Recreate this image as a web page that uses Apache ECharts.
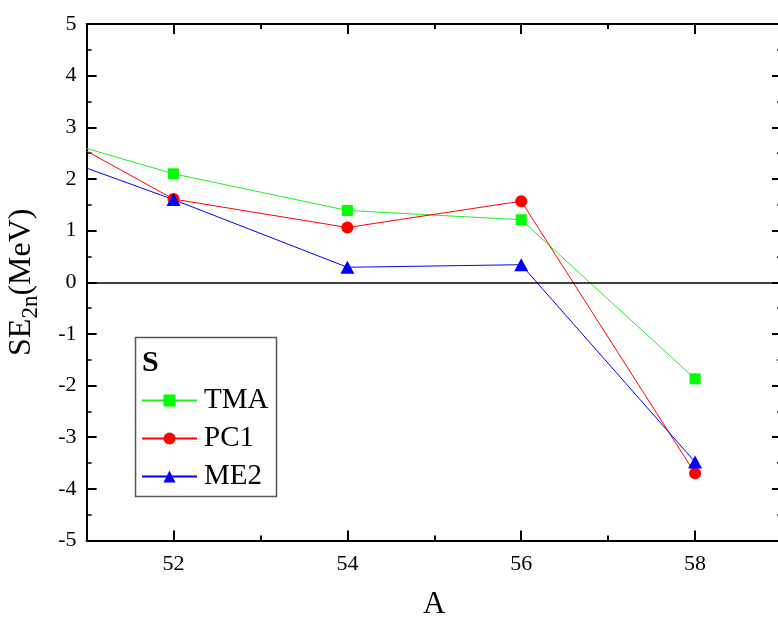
<!DOCTYPE html>
<html>
<head>
<meta charset="utf-8">
<script src="https://cdn.jsdelivr.net/npm/echarts@6/dist/echarts.min.js"></script>
<style>
  html, body { margin: 0; padding: 0; background: #fff; }
  #chart { width: 778px; height: 623px; }
</style>
</head>
<body>
<div id="chart"></div>
<script>
// Two-neutron shell-gap values (MeV) against mass number A
const massNumbers = [51, 52, 54, 56, 58];
const tmaValues = [2.59, 2.10, 1.39, 1.21, -1.87];
const pc1Values = [2.54, 1.61, 1.06, 1.57, -3.70];
const me2Values = [2.21, 1.60, 0.29, 0.34, -3.48];

const xMajorTicks = [52, 54, 56, 58];
const xMinorTicks = [53, 55, 57];
const seriesNames = ['TMA', 'PC1', 'ME2'];

const FONT = 'Liberation Serif';
const tickText = { t: { fontFamily: FONT, fontSize: 22, color: '#000' } };
const tickFormatter = v => '{t|' + v + '}';

// first entry sits on the left frame edge: line only, no marker
function pairs(values) {
  return massNumbers.map((a, i) => i === 0
    ? { value: [a, values[i]], symbol: 'none' }
    : [a, values[i]]);
}

function xAxisDef(pos, ticks, len, withLabels, withLine) {
  return {
    type: 'value', position: pos, min: 51, max: 59,
    axisLine: { show: withLine, onZero: false, lineStyle: { color: '#000', width: 2 } },
    axisTick: { show: true, inside: true, length: len, customValues: ticks,
                lineStyle: { color: '#000', width: 2 } },
    axisLabel: withLabels
      ? { show: true, customValues: ticks, margin: 13, color: '#000',
          fontFamily: FONT, fontSize: 22, formatter: tickFormatter, rich: tickText }
      : { show: false },
    splitLine: { show: false }
  };
}

function yAxisDef(pos, withLabels) {
  return {
    type: 'value', position: pos, min: -5, max: 5, interval: 1,
    axisLine: { show: true, onZero: false, lineStyle: { color: '#000', width: 2 } },
    axisTick: { show: true, inside: true, length: 10, lineStyle: { color: '#000', width: 2 } },
    minorTick: { show: true, splitNumber: 2, length: 5, lineStyle: { color: '#000', width: 1.5 } },
    axisLabel: withLabels
      ? { show: true, margin: 10, color: '#000', fontFamily: FONT, fontSize: 22,
          formatter: tickFormatter, rich: tickText }
      : { show: false },
    splitLine: { show: false }
  };
}

const chart = echarts.init(document.getElementById('chart'));

const bottomMajor = xAxisDef('bottom', xMajorTicks, 10, true, true);
bottomMajor.name = 'A';
bottomMajor.nameLocation = 'middle';
bottomMajor.nameGap = 49;
bottomMajor.nameTextStyle = { fontFamily: FONT, fontSize: 31, color: '#000' };

const leftAxis = yAxisDef('left', true);
leftAxis.name = '{a|SE}{s|2n}{a|(MeV)}';
leftAxis.nameLocation = 'middle';
leftAxis.nameGap = 44;
leftAxis.nameRotate = 90;
leftAxis.nameTextStyle = {
  fontFamily: FONT, color: '#000',
  rich: {
    a: { fontFamily: FONT, fontSize: 32, color: '#000' },
    s: { fontFamily: FONT, fontSize: 23, color: '#000', padding: [20, 0, 0, 0] }
  }
};

chart.setOption({
  animation: false,
  backgroundColor: '#fff',
  textStyle: { fontFamily: FONT, color: '#000' },
  grid: { left: 86.6, top: 24, right: -4, bottom: 82.5,
          containLabel: false, outerBoundsMode: 'none' },
  xAxis: [
    bottomMajor,
    xAxisDef('bottom', xMinorTicks, 5, false, false),
    xAxisDef('top', xMajorTicks, 10, false, true),
    xAxisDef('top', xMinorTicks, 5, false, false)
  ],
  yAxis: [leftAxis, yAxisDef('right', false)],
  legend: {
    orient: 'vertical', left: 141, top: 386, padding: 0,
    itemWidth: 55, itemHeight: 15, itemGap: 9,
    data: seriesNames,
    textStyle: { fontFamily: FONT, fontSize: 29, color: '#000', lineHeight: 29,
                 padding: [0, 0, 0, 2] }
  },
  graphic: [
    { type: 'rect', left: 133, top: 335, z: 0,
      shape: { width: 141, height: 159 },
      style: { fill: 'none', stroke: '#555', lineWidth: 1.5 } },
    { type: 'text', left: 142, top: 348, z: 10,
      style: { text: 'S', fontFamily: FONT, fontWeight: 'bold', fontSize: 30, fill: '#000' } }
  ],
  series: [
    { name: 'TMA', type: 'line', data: pairs(tmaValues),
      symbol: 'rect', symbolSize: 11,
      itemStyle: { color: '#00ff00' }, lineStyle: { color: '#22ee22', width: 1 },
      markLine: { silent: true, symbol: 'none', label: { show: false },
                  lineStyle: { color: '#000', width: 1.5, type: 'solid' },
                  data: [{ yAxis: 0 }] } },
    { name: 'PC1', type: 'line', data: pairs(pc1Values),
      symbol: 'circle', symbolSize: 12,
      itemStyle: { color: '#ff0000' }, lineStyle: { color: '#ff0000', width: 1 } },
    { name: 'ME2', type: 'line', data: pairs(me2Values),
      symbol: 'triangle', symbolSize: [14, 13],
      itemStyle: { color: '#0000ff' }, lineStyle: { color: '#0000ff', width: 1 } }
  ]
});
</script>
</body>
</html>
